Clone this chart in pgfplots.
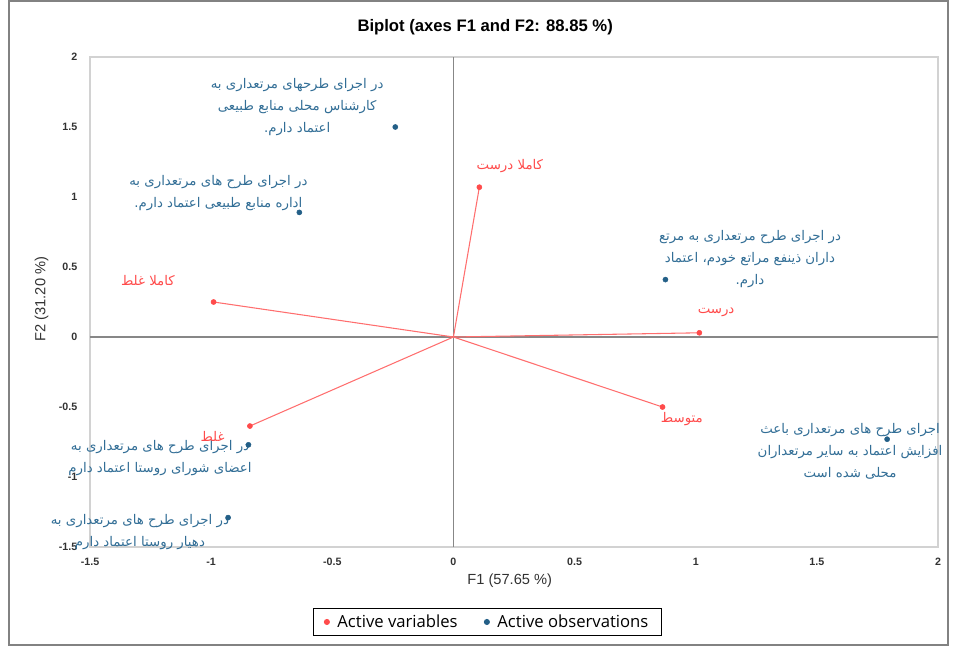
\documentclass[border=0pt]{standalone}
\usepackage{pgfplots}
\pgfplotsset{compat=1.18}
\usepackage{fontspec}
\setmainfont{Liberation Sans}
\newfontfamily\legendfont{Open Sans}
\newfontfamily\fa[Script=Arabic]{DejaVu Sans}
\TeXXeTstate=1
\definecolor{varred}{RGB}{255,75,75}
\definecolor{linered}{RGB}{255,110,110}
\definecolor{obsblue}{RGB}{35,95,135}
\definecolor{txtblue}{RGB}{50,110,150}
\definecolor{tickgray}{RGB}{50,50,50}
\newcommand{\R}[1]{\beginR #1\endR}
\begin{document}
\begin{tikzpicture}
\useasboundingbox (-67.5pt,-77.25pt) rectangle (648.75pt,410.25pt);
\draw[draw={rgb,255:red,130;green,130;blue,130}, line width=0.8pt] (-60.75pt,-73.5pt) rectangle (643.5pt,409.5pt);
\begin{axis}[
  scale only axis, width=636pt, height=367.5pt,
  xmin=-1.5, xmax=2, ymin=-1.5, ymax=2,
  xtick={-1.5,-1,-0.5,0,0.5,1,1.5,2},
  ytick={-1.5,-1,-0.5,0,0.5,1,1.5,2},
  major tick length=0,
  axis line style={draw={rgb,255:red,210;green,210;blue,210}, line width=0.9pt},
  /pgf/number format/assume math mode=true,
  ticklabel style={font=\bfseries\fontsize{8}{9}\selectfont, text=tickgray},
  xticklabel style={yshift=-5pt},
  yticklabel style={xshift=-6pt},
  clip=false,
  xlabel={F1 (57.65 \%)},
  ylabel={F2 (31.20 \%)},
  xlabel style={font=\fontsize{11}{13}\selectfont, text=tickgray, at={(rel axis cs:0.495,-0.069)}, anchor=center},
  ylabel style={font=\fontsize{11}{13}\selectfont, text=tickgray, at={(rel axis cs:-0.057,0.506)}, anchor=center, rotate=0},
  legend style={draw=black, line width=0.7pt, font=\legendfont\fontsize{12.5}{14}\selectfont, legend columns=2,
    at={(rel axis cs:0.469,-0.153)}, anchor=center, inner xsep=8pt, inner ysep=2.5pt,
    /tikz/every odd column/.append style={column sep=4pt},
    /tikz/every even column/.append style={column sep=18pt}},
]
\draw[draw={rgb,255:red,135;green,135;blue,135}, line width=0.9pt] (axis cs:0,-1.5) -- (axis cs:0,2);
\draw[draw={rgb,255:red,135;green,135;blue,135}, line width=0.9pt] (axis cs:-1.5,0) -- (axis cs:2,0);
\addplot[linered, line width=0.8pt, forget plot] coordinates {(0,0) (0.107,1.07)};
\addplot[linered, line width=0.8pt, forget plot] coordinates {(0,0) (-0.99,0.25)};
\addplot[linered, line width=0.8pt, forget plot] coordinates {(0,0) (1.015,0.03)};
\addplot[linered, line width=0.8pt, forget plot] coordinates {(0,0) (0.863,-0.50)};
\addplot[linered, line width=0.8pt, forget plot] coordinates {(0,0) (-0.84,-0.636)};
\addplot[only marks, mark=*, mark size=1.9pt, draw=varred, fill=varred] coordinates {
 (0.107,1.07) (-0.99,0.25) (1.015,0.03) (0.863,-0.50) (-0.84,-0.636)};
\addlegendentry{Active variables}
\addplot[only marks, mark=*, mark size=1.9pt, draw=obsblue, fill=obsblue] coordinates {
 (-0.24,1.5) (-0.636,0.89) (0.875,0.41) (1.79,-0.73) (-0.846,-0.77) (-0.93,-1.29)};
\addlegendentry{Active observations}
% title
\node[font=\bfseries\fontsize{12.5}{14}\selectfont, text=black] at (rel axis cs:0.466,1.061) {Biplot (axes F1 and F2: 88.85 \%)};
% observation labels
\begin{scope}[every node/.style={font=\fa\fontsize{10}{16.5}\selectfont, text=txtblue, align=center}]
\node at (axis cs:-0.645,1.643) {\R{در اجرای طرحهای مرتعداری به}\\\R{کارشناس محلی منابع طبیعی}\\\R{اعتماد دارم.}};
\node at (axis cs:-0.97,1.03) {\R{در اجرای طرح های مرتعداری به}\\\R{اداره منابع طبیعی اعتماد دارم.}};
\node at (axis cs:1.224,0.557) {\R{در اجرای طرح مرتعداری به مرتع}\\\R{داران ذینفع مراتع خودم، اعتماد}\\\R{دارم.}};
\node at (axis cs:1.637,-0.814) {\R{اجرای طرح های مرتعداری باعث}\\\R{افزایش اعتماد به سایر مرتعداران}\\\R{محلی شده است}};
\node at (axis cs:-1.211,-0.864) {\R{در اجرای طرح های مرتعداری به}\\\R{اعضای شورای روستا اعتماد دارم}};
\node at (axis cs:-1.294,-1.393) {\R{در اجرای طرح های مرتعداری به}\\\R{دهیار روستا اعتماد دارم}};
\end{scope}
% variable labels
\begin{scope}[every node/.style={font=\fa\fontsize{10}{12}\selectfont, text=varred}]
\node at (axis cs:0.233,1.221) {\R{کاملا درست}};
\node at (axis cs:-1.261,0.40) {\R{کاملا غلط}};
\node at (axis cs:1.084,0.179) {\R{درست}};
\node at (axis cs:0.943,-0.586) {\R{متوسط}};
\node at (axis cs:-0.994,-0.707) {\R{غلط}};
\end{scope}
\end{axis}
\end{tikzpicture}
\end{document}
